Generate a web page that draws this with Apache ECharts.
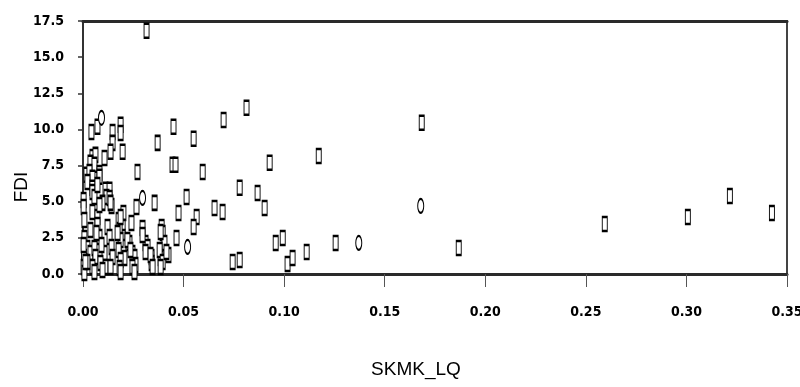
<!DOCTYPE html>
<html>
<head>
<meta charset="utf-8">
<script src="https://cdn.jsdelivr.net/npm/echarts@6/dist/echarts.min.js"></script>
<style>html,body{margin:0;padding:0;background:#fff;}#c{width:800px;height:387px;}</style>
</head>
<body>
<div id="c"></div>
<script>
// Tick settings
const xTicks = [0.00, 0.05, 0.10, 0.15, 0.20, 0.25, 0.30, 0.35];
const yTicks = [0.0, 2.5, 5.0, 7.5, 10.0, 12.5, 15.0, 17.5];
const xName = "SKMK_LQ";
const yName = "FDI";

// Rectangular markers (SKMK_LQ, FDI)
const rectX = [0.0316,0.0699,0.0813,0.1684,0.0595,0.0928,0.1172,0.0779,0.0868,0.0654,0.0694,0.0903,
  0.0958,0.0993,0.1112,0.1256,0.1868,0.0744,0.0779,0.1017,0.1042,0.2594,0.3007,0.3216,0.3425,
  0.0042,0.0072,0.0147,0.0187,0.0187,0.0450,0.0371,0.0550,0.0147,0.0137,0.0107,0.0197,0.0445,0.0460,
  0.0271,0.0017,0.0047,0.0062,0.0037,0.0057,0.0032,0.0082,0.0047,0.0082,0.0022,0.0047,0.0112,0.0132,
  0.0117,0.0132,0.0356,0.0515,0.0475,0.0266,0.0241,0.0201,0.0142,0.0565,0.0550,0.0391,0.0396,0.0405,
  0.0425,0.0386,0.0465,0.0296,0.0311,0.0321,0.0341,0.0341,0.0246,0.0256,0.0261,0.0231,0.0197,0.0197,
  0.0201,0.0206,0.0177,0.0182,0.0187,0.0177,0.0187,0.0182,0.0122,0.0132,0.0142,0.0147,0.0107,0.0112,
  0.0047,0.0057,0.0097,0.0137,0.0003,0.0003,0.0047,0.0007,0.0072,0.0072,0.0187,0.0037,0.0007,0.0082,
  0.0092,0.0172,0.0221,0.0296,0.0386,0.0022,0.0037,0.0057,0.0062,0.0236,0.0311,0.0336,0.0381,0.0396,
  0.0005,0.0003,0.0007,0.0047,0.0057,0.0087,0.0097,0.0137,0.0187,0.0246,0.0256,0.0346,0.0386,0.0415,
  0.0022,0.0067,0.0082,0.0072,0.0003,0.0012];
const rectY = [16.83,10.66,11.50,10.46,7.06,7.69,8.17,5.96,5.61,4.57,4.29,4.57,
  2.15,2.49,1.52,2.15,1.80,0.83,0.97,0.69,1.11,3.46,3.95,5.40,4.22,
  9.83,10.18,9.83,10.32,9.76,10.18,9.07,9.35,9.07,8.45,8.03,8.45,7.55,7.55,
  7.06,6.86,8.10,8.24,7.69,7.55,7.06,6.99,6.65,6.72,6.37,5.96,5.82,5.82,
  5.33,5.26,4.92,5.33,4.22,4.64,3.53,4.22,4.71,3.95,3.25,3.25,2.84,2.15,
  1.32,1.11,2.49,3.19,2.15,1.87,1.18,0.76,1.45,1.18,0.62,2.15,3.25,2.56,
  1.87,1.11,3.74,3.05,2.35,1.66,0.97,0.42,3.25,2.56,1.87,1.18,1.45,0.48,
  5.68,5.33,4.92,4.92,5.12,4.64,4.29,3.74,3.95,3.39,3.95,3.05,2.49,2.56,
  2.01,2.84,2.35,2.70,2.91,1.80,1.45,1.80,1.18,1.66,1.52,1.32,1.66,0.83,
  1.18,0.48,0.07,0.48,0.14,0.76,0.28,0.48,0.14,0.48,0.14,0.48,0.48,1.52,
  0.83,2.84,4.78,6.16,2.00,0.83];

// Oval markers
const ovalX = [0.1679,0.1371,0.0092,0.0296,0.0520];
const ovalY = [4.71,2.15,10.80,5.26,1.87];

const zip = (a, b) => a.map((v, i) => [v, b[i]]);

const tickFont = {
  fontFamily: '"Liberation Sans Narrow","DejaVu Sans Condensed",sans-serif',
  fontWeight: 'bold', fontSize: 14, color: '#000'
};

const chart = echarts.init(document.getElementById('c'));
chart.setOption({
  animation: false,
  backgroundColor: '#fff',
  grid: {
    left: 83, right: 13, top: 21, bottom: 113, containLabel: false,
    outerBoundsMode: 'none',
    show: true, borderColor: '#333', borderWidth: 2, backgroundColor: 'transparent'
  },
  xAxis: [{
    type: 'value', min: 0, max: 0.35, interval: 0.05, position: 'bottom',
    axisLine: { show: true, onZero: false, lineStyle: { color: '#2a2a2a', width: 3 } },
    axisTick: { show: true, inside: false, length: 13, lineStyle: { color: '#555', width: 1 } },
    axisLabel: Object.assign({ margin: 31, formatter: v => v.toFixed(2) }, tickFont),
    splitLine: { show: false }
  }, {
    type: 'value', min: 0, max: 0.35, interval: 0.05, position: 'top', show: true,
    axisLine: { show: true, onZero: false, lineStyle: { color: '#2a2a2a', width: 3 } },
    axisTick: { show: false }, axisLabel: { show: false }, splitLine: { show: false }
  }],
  yAxis: [{
    type: 'value', min: 0, max: 17.5, interval: 2.5, position: 'left',
    axisLine: { show: true, onZero: false, lineStyle: { color: '#333', width: 1.5 } },
    axisTick: { show: true, inside: false, length: 5, lineStyle: { color: '#333', width: 1.5 } },
    axisLabel: Object.assign({ margin: 19, formatter: v => v.toFixed(1) }, tickFont),
    splitLine: { show: false }
  }, {
    type: 'value', min: 0, max: 17.5, interval: 2.5, position: 'right', show: true,
    axisLine: { show: true, onZero: false, lineStyle: { color: '#444', width: 2 } },
    axisTick: { show: false }, axisLabel: { show: false }, splitLine: { show: false }
  }],
  graphic: [
    { type: 'text', x: 416, y: 370, style: { text: xName, font: '19px "Liberation Sans", Arial, sans-serif', fill: '#000', align: 'center', verticalAlign: 'middle' } },
    { type: 'text', x: 22, y: 187, rotation: Math.PI / 2, style: { text: yName, font: '19px "Liberation Sans", Arial, sans-serif', fill: '#000', align: 'center', verticalAlign: 'middle' } }
  ],
  series: [{
    type: 'scatter', xAxisIndex: 0, yAxisIndex: 0,
    symbol: 'rect', symbolSize: [5, 14],
    itemStyle: { color: '#fff', borderColor: '#000', borderWidth: 1.5, opacity: 1 },
    data: zip(rectX, rectY), z: 3
  }, {
    type: 'scatter', xAxisIndex: 0, yAxisIndex: 0,
    symbol: 'circle', symbolSize: [6, 14],
    itemStyle: { color: '#fff', borderColor: '#000', borderWidth: 1.5, opacity: 1 },
    data: zip(ovalX, ovalY), z: 3
  }, {
    type: 'scatter', xAxisIndex: 1, yAxisIndex: 1, data: [], silent: true
  }]
});
</script>
</body>
</html>
